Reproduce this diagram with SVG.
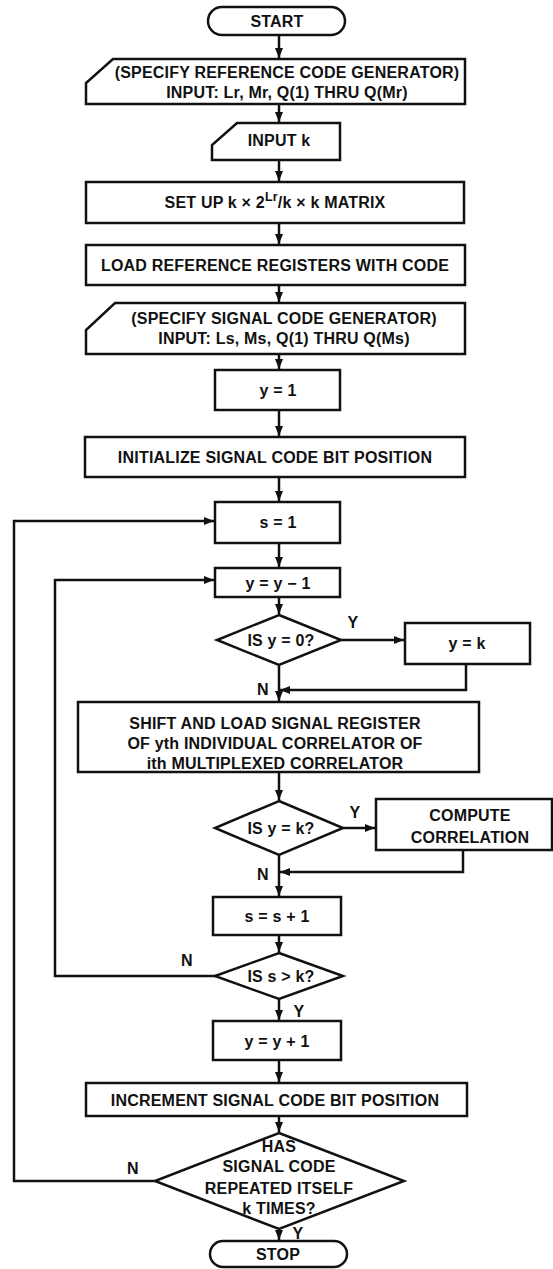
<svg xmlns="http://www.w3.org/2000/svg" width="553" height="1269" viewBox="0 0 553 1269">
<style>
.s{fill:#fff;stroke:#111;stroke-width:2.5;stroke-linejoin:miter}
.c{fill:none;stroke:#111;stroke-width:2.5}
text{font-family:"Liberation Sans",Arial,sans-serif;font-weight:bold;font-size:16px;fill:#111;text-anchor:middle;letter-spacing:0.2px}
</style>
<defs>
<marker id="a" markerUnits="userSpaceOnUse" markerWidth="10" markerHeight="10" viewBox="0 0 10 10" refX="10" refY="5" orient="auto">
<path d="M0,1 L10,5 L0,9 Z" fill="#111"/>
</marker>
</defs>
<rect width="553" height="1269" fill="#fff"/>
<g id="connectors">
<line class="c" x1="279" y1="35" x2="279" y2="58" marker-end="url(#a)"/>
<line class="c" x1="279" y1="104" x2="279" y2="122" marker-end="url(#a)"/>
<line class="c" x1="279" y1="160" x2="279" y2="181" marker-end="url(#a)"/>
<line class="c" x1="279" y1="223" x2="279" y2="244" marker-end="url(#a)"/>
<line class="c" x1="279" y1="285" x2="279" y2="302" marker-end="url(#a)"/>
<line class="c" x1="279" y1="354" x2="279" y2="369" marker-end="url(#a)"/>
<line class="c" x1="279" y1="410" x2="279" y2="436" marker-end="url(#a)"/>
<line class="c" x1="279" y1="477" x2="279" y2="501" marker-end="url(#a)"/>
<line class="c" x1="279" y1="543" x2="279" y2="567" marker-end="url(#a)"/>
<line class="c" x1="279" y1="597" x2="279" y2="614" marker-end="url(#a)"/>
<line class="c" x1="341" y1="640" x2="404" y2="640" marker-end="url(#a)"/>
<polyline class="c" points="466,664 466,690 280,690" marker-end="url(#a)"/>
<line class="c" x1="279" y1="665" x2="279" y2="701" marker-end="url(#a)"/>
<line class="c" x1="279" y1="772" x2="279" y2="800" marker-end="url(#a)"/>
<line class="c" x1="343" y1="828" x2="375" y2="828" marker-end="url(#a)"/>
<polyline class="c" points="463,850 463,872 280,872" marker-end="url(#a)"/>
<line class="c" x1="279" y1="855" x2="279" y2="896" marker-end="url(#a)"/>
<line class="c" x1="279" y1="935" x2="279" y2="952" marker-end="url(#a)"/>
<polyline class="c" points="217,976 55,976 55,580 214,580" marker-end="url(#a)"/>
<line class="c" x1="279" y1="999" x2="279" y2="1020" marker-end="url(#a)"/>
<line class="c" x1="279" y1="1060" x2="279" y2="1082" marker-end="url(#a)"/>
<line class="c" x1="279" y1="1116" x2="279" y2="1132" marker-end="url(#a)"/>
<polyline class="c" points="155,1181 14,1181 14,521 214,521" marker-end="url(#a)"/>
<line class="c" x1="279" y1="1229" x2="279" y2="1240" marker-end="url(#a)"/>
</g>
<g id="start">
<rect class="s" x="208" y="7" width="137" height="28" rx="14"/>
<text x="277" y="27">START</text>
</g>
<g id="specRef">
<path class="s" d="M113,59 L465,59 L465,104 L86,104 L86,83 Z"/>
<text x="287" y="78">(SPECIFY REFERENCE CODE GENERATOR)</text>
<text x="287" y="98">INPUT: Lr, Mr, Q(1) THRU Q(Mr)</text>
</g>
<g id="inputK">
<path class="s" d="M237,123 L340,123 L340,160 L212,160 L212,145 Z"/>
<text x="279" y="146">INPUT k</text>
</g>
<g id="setup">
<rect class="s" x="86" y="182" width="378" height="41"/>
<text x="275" y="208">SET UP k × 2<tspan dy="-7" font-size="12.5">Lr</tspan><tspan dy="7">/k × k MATRIX</tspan></text>
</g>
<g id="loadRef">
<rect class="s" x="86" y="245" width="379" height="40"/>
<text x="275" y="271">LOAD REFERENCE REGISTERS WITH CODE</text>
</g>
<g id="specSig">
<path class="s" d="M115,303 L465,303 L465,354 L86,354 L86,330 Z"/>
<text x="284" y="324">(SPECIFY SIGNAL CODE GENERATOR)</text>
<text x="284" y="344">INPUT: Ls, Ms, Q(1) THRU Q(Ms)</text>
</g>
<g id="y1">
<rect class="s" x="215" y="370" width="125" height="40"/>
<text x="278" y="396">y = 1</text>
</g>
<g id="init">
<rect class="s" x="85" y="437" width="380" height="40"/>
<text x="275" y="463">INITIALIZE SIGNAL CODE BIT POSITION</text>
</g>
<g id="s1">
<rect class="s" x="215" y="502" width="125" height="41"/>
<text x="278" y="527.5">s = 1</text>
</g>
<g id="ydec">
<rect class="s" x="215" y="568" width="125" height="29"/>
<text x="278" y="588.5">y = y − 1</text>
</g>
<g id="isY0">
<path class="s" d="M279,615 L341,640 L279,665 L217,640 Z"/>
<text x="281" y="646">IS y = 0?</text>
</g>
<g id="yk">
<rect class="s" x="405" y="623" width="125" height="41"/>
<text x="467" y="649">y = k</text>
</g>
<g id="shift">
<rect class="s" x="78" y="702" width="401" height="70"/>
<text x="275" y="729">SHIFT AND LOAD SIGNAL REGISTER</text>
<text x="275" y="749">OF yth INDIVIDUAL CORRELATOR OF</text>
<text x="275" y="768.5">ith MULTIPLEXED CORRELATOR</text>
</g>
<g id="isYk">
<path class="s" d="M279,801 L343,828 L279,855 L215,828 Z"/>
<text x="281" y="834">IS y = k?</text>
</g>
<g id="compute">
<rect class="s" x="376" y="799" width="176" height="51"/>
<text x="470" y="821">COMPUTE</text>
<text x="470" y="843">CORRELATION</text>
</g>
<g id="sinc">
<rect class="s" x="213" y="897" width="128" height="38"/>
<text x="277" y="922">s = s + 1</text>
</g>
<g id="isSk">
<path class="s" d="M279,953 L343,976 L279,999 L215,976 Z"/>
<text x="281" y="982">IS s &gt; k?</text>
</g>
<g id="yinc">
<rect class="s" x="213" y="1021" width="128" height="39"/>
<text x="277" y="1047">y = y + 1</text>
</g>
<g id="incr">
<rect class="s" x="86" y="1083" width="381" height="33"/>
<text x="275" y="1106">INCREMENT SIGNAL CODE BIT POSITION</text>
</g>
<g id="has">
<path class="s" d="M279,1133 L404,1181 L279,1229 L155,1181 Z"/>
<text x="279" y="1151.5">HAS</text>
<text x="279" y="1172">SIGNAL CODE</text>
<text x="279" y="1193.5">REPEATED ITSELF</text>
<text x="279" y="1213.5">k TIMES?</text>
</g>
<g id="stop">
<rect class="s" x="210" y="1241" width="137" height="26" rx="13"/>
<text x="278" y="1259.5">STOP</text>
</g>
<g id="labels">
<text x="353" y="628">Y</text>
<text x="263" y="695">N</text>
<text x="355" y="818">Y</text>
<text x="263" y="880">N</text>
<text x="187" y="966">N</text>
<text x="299" y="1017">Y</text>
<text x="133" y="1174">N</text>
<text x="298" y="1239">Y</text>
</g>
</svg>
